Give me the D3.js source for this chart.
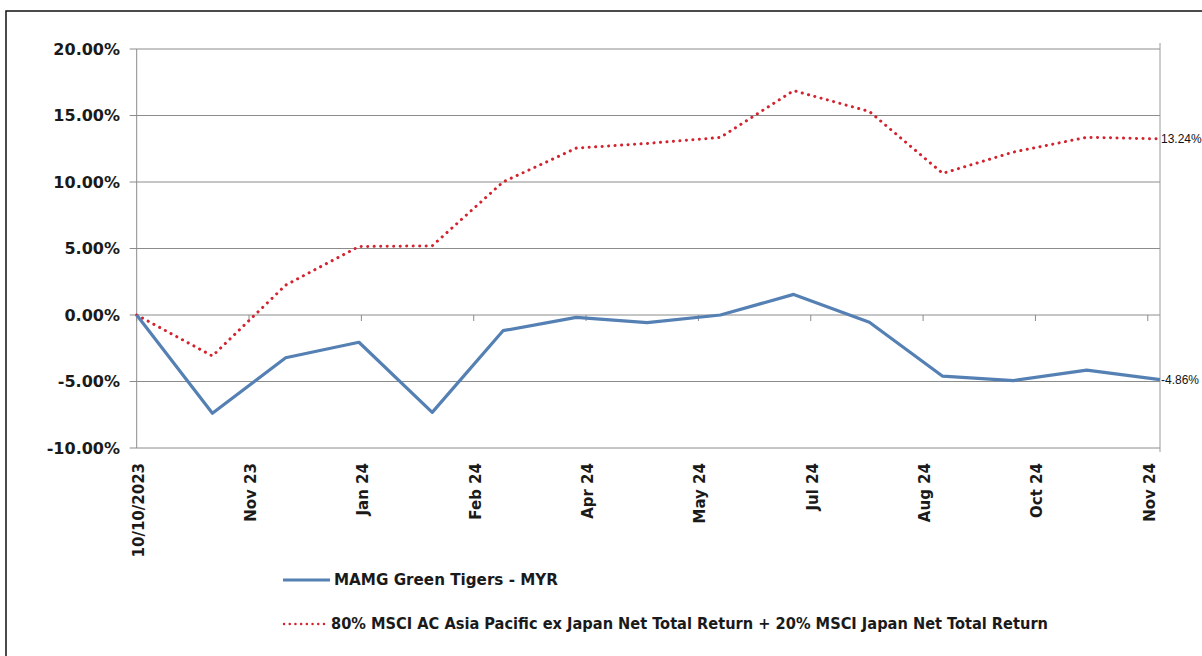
<!DOCTYPE html>
<html lang="en">

<head>
  <meta charset="UTF-8">
  <title>MAMG Green Tigers - MYR vs benchmark</title>
  <script src="https://d3js.org/d3.v7.min.js"></script>
  <style>
    body {
      margin: 0;
      background: #fff;
    }

    .grid line {
      stroke: #8c8c8c;
      stroke-width: 1;
    }

    .axis-label {
      font-family: "DejaVu Sans", sans-serif;
      font-weight: bold;
      fill: #1a1a1a;
    }

    .end-label {
      font-family: "Liberation Sans", sans-serif;
      font-size: 12px;
      fill: #111;
    }

    .legend-text {
      font-family: "DejaVu Sans Condensed", "DejaVu Sans", sans-serif;
      font-stretch: condensed;
      font-weight: bold;
      font-size: 15px;
      fill: #1a1a1a;
    }
  </style>
</head>

<body>
  <svg width="1202" height="656"></svg>

  <script>
    // observation dates (first one is the launch date)
    const dates = [
      '2023-10-10', '2023-11-10', '2023-12-10', '2024-01-09', '2024-02-08',
      '2024-03-08', '2024-04-07', '2024-05-06', '2024-06-05', '2024-07-05',
      '2024-08-05', '2024-09-04', '2024-10-03', '2024-11-02', '2024-12-02'
    ];

    // cumulative return, %
    const fund = [0, -7.39, -3.21, -2.05, -7.32, -1.18, -0.18, -0.58, 0.0, 1.55,
      -0.55, -4.6, -4.93, -4.15, -4.86];
    const benchmark = [0, -3.08, 2.25, 5.15, 5.2, 10.0, 12.55, 12.9, 13.35, 16.87,
      15.3, 10.65, 12.25, 13.36, 13.24];

    const seriesNames = [
      'MAMG Green Tigers - MYR',
      '80% MSCI AC Asia Pacific ex Japan Net Total Return + 20% MSCI Japan Net Total Return'
    ];

    const tickDates = ['2023-10-10', '2023-11-25', '2024-01-10', '2024-02-25', '2024-04-11',
      '2024-05-27', '2024-07-12', '2024-08-27', '2024-10-12', '2024-11-27'];
    const tickLabels = ['10/10/2023', 'Nov 23', 'Jan 24', 'Feb 24', 'Apr 24',
      'May 24', 'Jul 24', 'Aug 24', 'Oct 24', 'Nov 24'];
    const yTicks = [-10, -5, 0, 5, 10, 15, 20];

    const parse = d3.timeParse('%Y-%m-%d');
    const pts = dates.map((d, i) => ({ date: parse(d), fund: fund[i], bench: benchmark[i] }));

    // plain hyphen for negatives, like the original sheet
    const pct = v => d3.format('.2f')(v).replace('\u2212', '-') + '%';

    const plotLeft = 136.7, plotRight = 1160, plotTop = 49, plotBottom = 448;

    const svg = d3.select('svg');

    // outer frame
    svg.append('rect')
      .attr('x', 6).attr('y', 11)
      .attr('width', 1300).attr('height', 700)
      .attr('fill', 'none')
      .attr('stroke', '#111')
      .attr('stroke-width', 1.5);

    const x = d3.scaleTime()
      .domain(d3.extent(pts, d => d.date))
      .range([plotLeft, plotRight]);

    const y = d3.scaleLinear()
      .domain([-10, 20])
      .range([plotBottom, plotTop]);

    //horizontal grid lines
    svg.append('g')
      .attr('class', 'grid')
      .selectAll('line')
      .data(yTicks)
      .enter().append('line')
      .attr('x1', plotLeft - 7).attr('x2', plotRight)
      .attr('y1', d => y(d)).attr('y2', d => y(d));

    // left axis line + right plot edge
    svg.append('line')
      .attr('x1', plotLeft).attr('x2', plotLeft)
      .attr('y1', plotTop).attr('y2', plotBottom)
      .attr('stroke', '#8c8c8c');
    svg.append('line')
      .attr('x1', plotRight).attr('x2', plotRight)
      .attr('y1', plotTop - 6).attr('y2', plotBottom + 4)
      .attr('stroke', '#9a9a9a');

    //y axis labels
    svg.append('g')
      .selectAll('text')
      .data(yTicks)
      .enter().append('text')
      .attr('class', 'axis-label')
      .attr('x', 120)
      .attr('y', d => y(d))
      .attr('dy', '0.36em')
      .attr('text-anchor', 'end')
      .style('font-size', '16px')
      .text(pct);

    //x ticks sit on the zero line
    const tickData = tickDates.map((d, i) => ({ date: parse(d), label: tickLabels[i] }));
    svg.append('g')
      .selectAll('line')
      .data(tickData)
      .enter().append('line')
      .attr('x1', d => x(d.date)).attr('x2', d => x(d.date))
      .attr('y1', y(0)).attr('y2', y(0) + 6)
      .attr('stroke', '#8c8c8c');

    //x labels, rotated, at the bottom
    svg.append('g')
      .selectAll('text')
      .data(tickData)
      .enter().append('text')
      .attr('class', 'axis-label')
      .attr('transform', d => `translate(${x(d.date) + 7},463) rotate(-90)`)
      .attr('text-anchor', 'end')
      .style('font-size', '15px')
      .text(d => d.label);

    const fundLine = d3.line().x(d => x(d.date)).y(d => y(d.fund));
    const benchLine = d3.line().x(d => x(d.date)).y(d => y(d.bench));

    svg.append('path')
      .datum(pts)
      .attr('d', benchLine)
      .attr('fill', 'none')
      .attr('stroke', '#d2232f')
      .attr('stroke-width', 3)
      .attr('stroke-linecap', 'round')
      .attr('stroke-dasharray', '0.1 6.4');

    svg.append('path')
      .datum(pts)
      .attr('d', fundLine)
      .attr('fill', 'none')
      .attr('stroke', '#5580b4')
      .attr('stroke-width', 3.2)
      .attr('stroke-linejoin', 'round');

    // value labels at the end of each line
    const last = pts[pts.length - 1];
    [last.bench, last.fund].forEach(v => {
      svg.append('text')
        .attr('class', 'end-label')
        .attr('x', plotRight + 1)
        .attr('y', y(v))
        .attr('dy', '0.36em')
        .text(pct(v));
    });

    //legend
    const legend = svg.append('g');
    legend.append('line')
      .attr('x1', 283).attr('x2', 330)
      .attr('y1', 580).attr('y2', 580)
      .attr('stroke', '#5580b4')
      .attr('stroke-width', 3.2);
    legend.append('text')
      .attr('class', 'legend-text')
      .attr('x', 334).attr('y', 580)
      .attr('dy', '0.36em')
      .attr('textLength', 224)
      .attr('lengthAdjust', 'spacingAndGlyphs')
      .text(seriesNames[0]);

    legend.append('line')
      .attr('x1', 284).attr('x2', 324)
      .attr('y1', 624).attr('y2', 624)
      .attr('stroke', '#d2232f')
      .attr('stroke-width', 2.4)
      .attr('stroke-linecap', 'round')
      .attr('stroke-dasharray', '0.1 5.6');
    legend.append('text')
      .attr('class', 'legend-text')
      .attr('x', 331).attr('y', 624)
      .attr('dy', '0.36em')
      .attr('textLength', 717)
      .attr('lengthAdjust', 'spacingAndGlyphs')
      .text(seriesNames[1]);
  </script>
</body>

</html>
